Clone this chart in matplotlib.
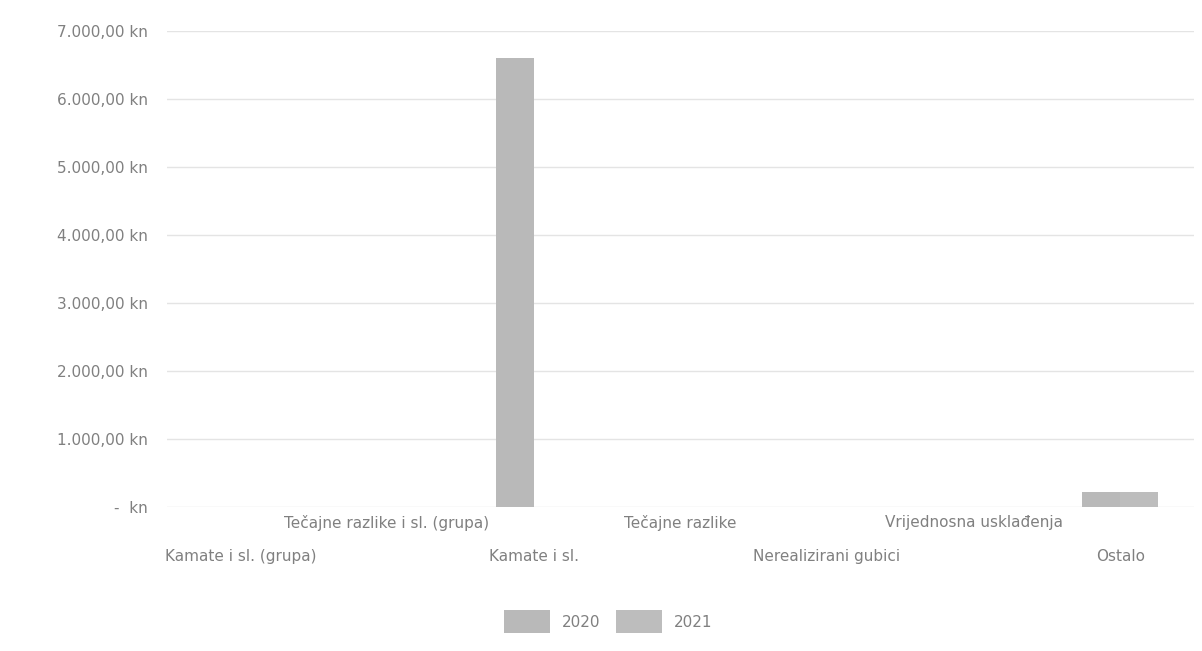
import numpy as np
import matplotlib.pyplot as plt
from matplotlib.ticker import FuncFormatter

# categories and values (kn)
categories = ['Kamate i sl. (grupa)', 'Tečajne razlike i sl. (grupa)', 'Kamate i sl.',
              'Tečajne razlike', 'Nerealizirani gubici', 'Vrijednosna usklađenja', 'Ostalo']
values_2020 = [0, 0, 6600, 0, 0, 0, 220]
values_2021 = [0, 0, 0, 0, 0, 0, 220]
years = ['2020', '2021']

text_col = '#808080'
bar_col_2020 = '#b9b9b9'
bar_col_2021 = '#bdbdbd'

fig = plt.figure(figsize=(12.02, 6.51), dpi=100)
ax = fig.add_axes([0.139, 0.221, 0.854, 0.731])

x = np.arange(len(categories))
w = 0.26
ax.bar(x - w / 2, values_2020, w, color=bar_col_2020, label=years[0])
ax.bar(x + w / 2, values_2021, w, color=bar_col_2021, label=years[1])

ax.set_xlim(-0.5, len(categories) - 0.5)
ax.set_ylim(0, 7000)
ax.set_yticks(np.arange(0, 7001, 1000))

def kn(v, pos):
    if v == 0:
        return '-  kn'
    s = '{:,.2f}'.format(v).replace(',', 'X').replace('.', ',').replace('X', '.')
    return s + ' kn'

ax.yaxis.set_major_formatter(FuncFormatter(kn))

# staggered category labels: even ones on the lower row (major), odd ones upper row (minor)
ax.set_xticks(x[::2])
ax.set_xticklabels(categories[::2])
ax.set_xticks(x[1::2], minor=True)
ax.set_xticklabels(categories[1::2], minor=True)

ax.tick_params(axis='both', which='both', length=0, colors=text_col, labelsize=11)
ax.tick_params(axis='y', pad=14)
ax.tick_params(axis='x', which='major', pad=30)
ax.tick_params(axis='x', which='minor', pad=6)

ax.grid(axis='y', which='major', color='#e4e4e4', linewidth=1)
ax.set_axisbelow(True)
for s in ax.spines.values():
    s.set_visible(False)

leg = ax.legend(loc='upper center', bbox_to_anchor=(0.43, -0.187), ncol=2, frameon=False,
                fontsize=11, handlelength=3.0, handleheight=2.0, columnspacing=1.0,
                handletextpad=0.8)
for t in leg.get_texts():
    t.set_color(text_col)

fig.savefig('out.png', dpi=100, facecolor='white')
